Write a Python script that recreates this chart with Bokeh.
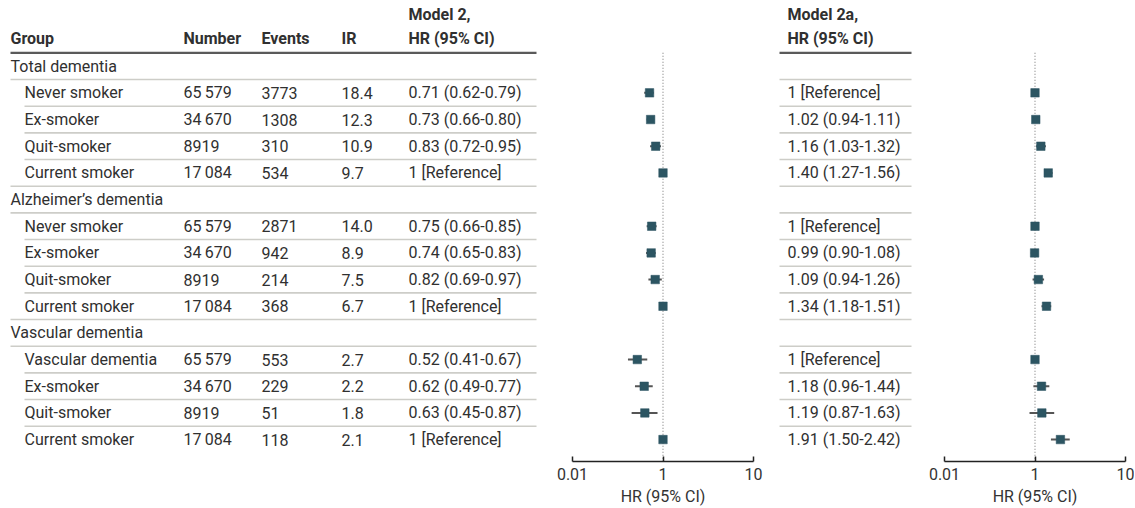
from bokeh.plotting import figure
from bokeh.layouts import row
from bokeh.models import Range1d, FixedTicker, ColumnDataSource
from bokeh.core.properties import value
from bokeh.embed import file_html
from bokeh.resources import INLINE

# ---------------- data ----------------
groups = ["Total dementia", "Alzheimer’s dementia", "Vascular dementia"]
subgroups = [
    ["Never smoker", "Ex-smoker", "Quit-smoker", "Current smoker"],
    ["Never smoker", "Ex-smoker", "Quit-smoker", "Current smoker"],
    ["Vascular dementia", "Ex-smoker", "Quit-smoker", "Current smoker"],
]
number = [65579, 34670, 8919, 17084, 65579, 34670, 8919, 17084, 65579, 34670, 8919, 17084]
events = [3773, 1308, 310, 534, 2871, 942, 214, 368, 553, 229, 51, 118]
ir = [18.4, 12.3, 10.9, 9.7, 14.0, 8.9, 7.5, 6.7, 2.7, 2.2, 1.8, 2.1]

m2_hr = [0.71, 0.73, 0.83, 1, 0.75, 0.74, 0.82, 1, 0.52, 0.62, 0.63, 1]
m2_lo = [0.62, 0.66, 0.72, None, 0.66, 0.65, 0.69, None, 0.41, 0.49, 0.45, None]
m2_hi = [0.79, 0.80, 0.95, None, 0.85, 0.83, 0.97, None, 0.67, 0.77, 0.87, None]

m2a_hr = [1, 1.02, 1.16, 1.40, 1, 0.99, 1.09, 1.34, 1, 1.18, 1.19, 1.91]
m2a_lo = [None, 0.94, 1.03, 1.27, None, 0.90, 0.94, 1.18, None, 0.96, 0.87, 1.50]
m2a_hi = [None, 1.11, 1.32, 1.56, None, 1.08, 1.26, 1.51, None, 1.44, 1.63, 2.42]

tick_values = [0.1, 1, 10]
tick_labels = ["0.01", "1", "10"]

header_cols = ["Group", "Number", "Events", "IR"]
model_titles = [("Model 2,", "HR (95% CI)"), ("Model 2a,", "HR (95% CI)")]
axis_title = "HR (95% CI)"

# ---------------- helpers ----------------
FONT = value("Roboto")
FS = "16px"
TXT = "#303030"
MARK = "#2c5562"
NAN = float("nan")


def fmt_n(n):
    return f"{n:,}".replace(",", "\u2009") if n >= 10000 else str(n)


def fmt_hr(h, lo, hi):
    if lo is None:
        return "1 [Reference]"
    return f"{h:.2f} ({lo:.2f}-{hi:.2f})"


group_rows = [5 * g for g in range(3)]
data_rows = [5 * g + 1 + j for g in range(3) for j in range(4)]
sub_labels = [s for sg in subgroups for s in sg]
n_rows = 15

H1, H2 = -1.93, -1.03
Y_BOT = 14.822
yr = Range1d(Y_BOT, -2.4635)
FRAME_H = 461


def base(frame_w, xr, left=0, right=0, xtype="linear"):
    p = figure(frame_width=frame_w, frame_height=FRAME_H, x_range=xr, y_range=yr,
               x_axis_type=xtype, output_backend="svg", toolbar_location=None,
               min_border_left=left, min_border_right=right, min_border_top=0,
               min_border_bottom=0, y_axis_location=None)
    p.outline_line_color = None
    p.grid.visible = False
    p.background_fill_color = "white"
    p.border_fill_color = "white"
    return p


def txt(p, xs, ys, texts, bold=False, align="left"):
    src = ColumnDataSource(dict(x=xs, y=ys, t=texts))
    p.text(x="x", y="y", text="t", source=src, text_font=FONT, text_font_size=FS,
           text_color=TXT, text_align=align, text_baseline="middle",
           text_font_style="bold" if bold else "normal")


# ---------------- table (left) ----------------
t1 = base(556, Range1d(0, 556))
t1.xaxis.visible = False
COLX = [10, 183, 261, 341, 408]
txt(t1, COLX[:4], [H2] * 4, header_cols, bold=True)
txt(t1, [COLX[4], COLX[4]], [H1, H2], list(model_titles[0]), bold=True)
txt(t1, [10] * 3, group_rows, groups)
txt(t1, [24] * 12, data_rows, sub_labels)
txt(t1, [COLX[1]] * 12, data_rows, [fmt_n(v) for v in number])
txt(t1, [COLX[2]] * 12, data_rows, [str(v) for v in events])
txt(t1, [COLX[3]] * 12, data_rows, [f"{v:.1f}" for v in ir])
txt(t1, [COLX[4]] * 12, data_rows, [fmt_hr(h, l, u) for h, l, u in zip(m2_hr, m2_lo, m2_hi)])

t1.segment(x0=[10], x1=[536], y0=[-0.5], y1=[-0.5], line_color="#5a5a5a", line_width=2.2)
bounds = [k + 0.5 for k in range(n_rows - 1)]
bx0 = [10 if (int(b - 0.5) in group_rows or int(b + 0.5) in group_rows) else 24 for b in bounds]
t1.segment(x0=bx0, x1=[536] * len(bounds), y0=bounds, y1=bounds, line_color="#cdcdc8", line_width=1.6)

# ---------------- table (middle) ----------------
t3 = base(165, Range1d(763, 928))
t3.xaxis.visible = False
txt(t3, [787, 787], [H1, H2], list(model_titles[1]), bold=True)
txt(t3, [787] * 12, data_rows, [fmt_hr(h, l, u) for h, l, u in zip(m2a_hr, m2a_lo, m2a_hi)])
t3.segment(x0=[779], x1=[911], y0=[-0.5], y1=[-0.5], line_color="#5a5a5a", line_width=2.2)
t3.segment(x0=[779] * len(bounds), x1=[911] * len(bounds), y0=bounds, y1=bounds,
           line_color="#cdcdc8", line_width=1.6)


# ---------------- forest plots ----------------
def forest(frame_w, left, right, hr, lo, hi):
    p = base(frame_w, Range1d(tick_values[0], tick_values[-1]), left=left, right=right, xtype="log")
    p.segment(x0=[1], x1=[1], y0=[-0.5], y1=[Y_BOT], line_color="#8a8a8a",
              line_width=1.2, line_dash="1 2")
    src = ColumnDataSource(dict(
        y=data_rows, hr=hr,
        lo=[NAN if v is None else v for v in lo],
        hi=[NAN if v is None else v for v in hi]))
    p.segment(x0="lo", x1="hi", y0="y", y1="y", source=src, line_color="#555555", line_width=2)
    p.scatter(x="hr", y="y", source=src, marker="square", size=8.5,
              fill_color=MARK, line_color=MARK, line_width=0.5)
    ax = p.xaxis[0]
    ax.ticker = FixedTicker(ticks=tick_values)
    ax.major_label_overrides = dict(zip(tick_values, tick_labels))
    ax.axis_label = axis_title
    ax.axis_line_color = "#222222"
    ax.axis_line_width = 1.5
    ax.major_tick_line_color = "#222222"
    ax.major_tick_line_width = 1.5
    ax.major_tick_in = 5
    ax.major_tick_out = 0
    ax.minor_tick_line_color = None
    ax.major_label_text_font = "Roboto"
    ax.major_label_text_font_size = "16px"
    ax.major_label_text_color = "#333333"
    ax.major_label_standoff = 6
    ax.axis_label_text_font = "Roboto"
    ax.axis_label_text_font_size = "16px"
    ax.axis_label_text_font_style = "normal"
    ax.axis_label_text_color = "#333333"
    ax.axis_label_standoff = 4
    return p


f1 = forest(181, 16, 10, m2_hr, m2_lo, m2_hi)
f2 = forest(181, 16, 9, m2a_hr, m2a_lo, m2a_hi)

layout = row(t1, f1, t3, f2)
open("out.html", "w").write(file_html(layout, INLINE))
